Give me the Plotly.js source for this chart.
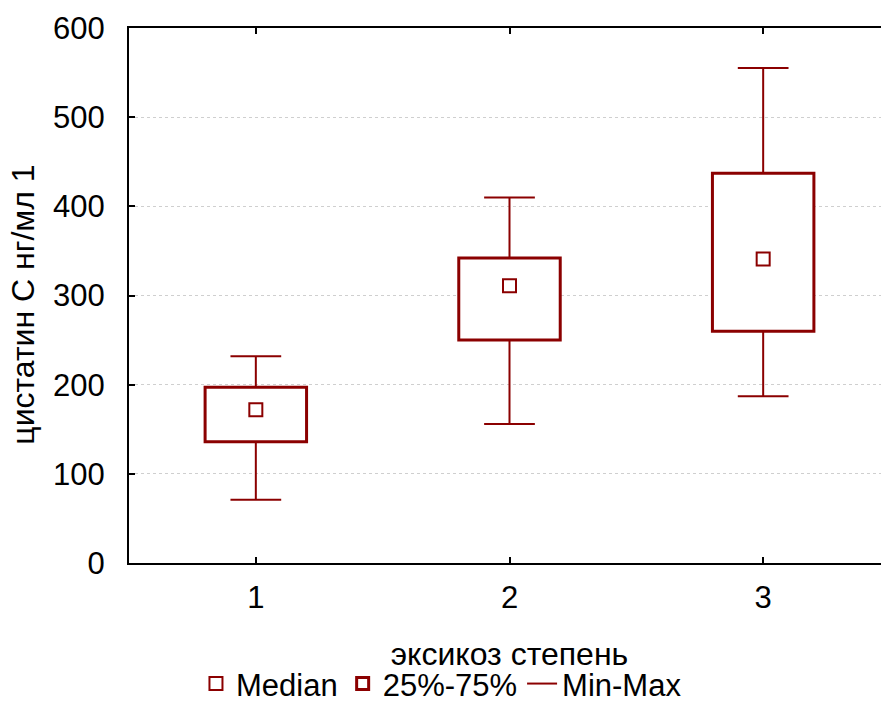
<!DOCTYPE html>
<html>
<head>
<meta charset="utf-8">
<script src="https://cdn.plot.ly/plotly-3.0.1.min.js"></script>
<style>html,body{margin:0;padding:0;overflow:hidden;background:#fff;}</style>
</head>
<body>
<div id="chart" style="width:890px;height:701px;"></div>
<script>
const groups = [1, 2, 3];
const minVals = [71, 156, 187];
const q1Vals = [136, 250, 260];
const medianVals = [172, 311, 341];
const q3Vals = [197, 342, 437];
const maxVals = [232, 410, 555];
const tickLabels = ['1', '2', '3'];

const RED = '#8B0000';
const FONT = 'Liberation Sans, Arial, sans-serif';
const capHalf = 0.1;

// whisker paths built from data
const wx = [], wy = [];
groups.forEach((g, i) => {
  wx.push(g, g, null, g - capHalf, g + capHalf, null);
  wy.push(q3Vals[i], maxVals[i], null, maxVals[i], maxVals[i], null);
  wx.push(g, g, null, g - capHalf, g + capHalf, null);
  wy.push(q1Vals[i], minVals[i], null, minVals[i], minVals[i], null);
});

const traces = [
  {
    type: 'scatter', mode: 'markers', name: 'Median',
    x: groups, y: medianVals,
    marker: {symbol: 'square-open', size: 13, color: RED, line: {width: 2, color: RED}},
    hoverinfo: 'y'
  },
  {
    type: 'bar', name: '25%-75%',
    x: groups, base: q1Vals, y: q3Vals.map((v, i) => v - q1Vals[i]),
    width: 0.4,
    marker: {color: 'rgba(255,255,255,1)', line: {color: RED, width: 3}}
  },
  {
    type: 'scatter', mode: 'lines', name: 'Min-Max',
    x: wx, y: wy, connectgaps: false,
    line: {color: RED, width: 2}
  }
];

const layout = {
  width: 890, height: 701,
  margin: {l: 129, r: 0, t: 28, b: 138, autoexpand: false},
  paper_bgcolor: '#fff', plot_bgcolor: '#fff',
  font: {family: FONT, size: 31, color: '#000'},
  showlegend: true,
  legend: {
    orientation: 'h', x: 0.088, xanchor: 'left', y: -0.226, yanchor: 'middle',
    font: {family: FONT, size: 31, color: '#000'},
    traceorder: 'normal', itemwidth: 30, tracegroupgap: 0
  },
  xaxis: {
    range: [0.5, 3.5], tickvals: groups, ticktext: tickLabels,
    ticks: 'inside', ticklen: 6, tickwidth: 2, tickcolor: '#000',
    showline: true, linecolor: '#000', linewidth: 2, mirror: 'ticks',
    showgrid: false, zeroline: false, automargin: false,
    tickfont: {family: FONT, size: 31},
    ticklabelstandoff: 6,
    title: {text: 'эксикоз степень', font: {family: FONT, size: 32}, standoff: 28}
  },
  yaxis: {
    range: [0, 600], tickvals: [0, 100, 200, 300, 400, 500, 600],
    ticks: 'inside', ticklen: 6, tickwidth: 2, tickcolor: '#000',
    showline: true, linecolor: '#000', linewidth: 2, mirror: 'ticks',
    showgrid: true, gridcolor: '#cfcfcf', griddash: 'dot', gridwidth: 1,
    zeroline: false, automargin: false,
    tickfont: {family: FONT, size: 31},
    ticklabelstandoff: 16
  },
  annotations: [{
    text: 'цистатин С нг/мл 1', textangle: -90, showarrow: false,
    xref: 'paper', yref: 'paper', x: -0.1386, y: 0.482,
    xanchor: 'center', yanchor: 'middle',
    font: {family: FONT, size: 32, color: '#000'}
  }],
  bargap: 0
};

Plotly.newPlot('chart', traces, layout, {displayModeBar: false, staticPlot: true});
</script>
</body>
</html>
